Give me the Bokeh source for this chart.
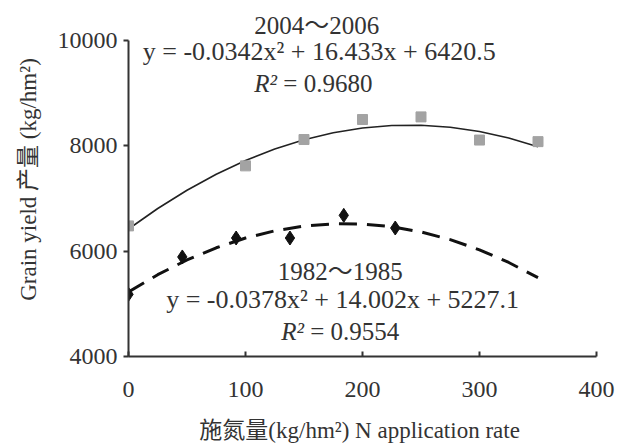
from bokeh.plotting import figure
from bokeh.models import Range1d, FixedTicker, Label
from bokeh.embed import file_html
from bokeh.resources import INLINE

# ---- data ----
n_recent = [0, 100, 150, 200, 250, 300, 350]
yield_recent = [6480, 7620, 8120, 8500, 8550, 8110, 8080]

n_early = [0, 46, 92, 138, 184, 228]
yield_early = [5180, 5890, 6250, 6250, 6680, 6440]

# fitted curves (values of the trend lines shown in the chart)
fit_x = [0, 25, 50, 75, 100, 125, 150, 175, 200, 225, 250, 275, 300, 325, 350]
fit_recent = [6420.5, 6810.0, 7156.7, 7460.6, 7721.8, 7940.3, 8116.0, 8248.9,
              8339.1, 8386.6, 8391.3, 8353.2, 8272.4, 8148.9, 7982.6]
fit_early = [5227.1, 5553.5, 5832.7, 6064.6, 6249.3, 6386.7, 6476.9, 6519.8,
             6515.5, 6463.9, 6365.1, 6219.0, 6025.7, 5785.1, 5497.3]

x_ticks = [0, 100, 200, 300, 400]
y_ticks = [4000, 6000, 8000, 10000]

label_recent = "2004～2006"
eq_recent = "y = -0.0342x² + 16.433x + 6420.5"
r2_recent = "0.9680"
label_early = "1982～1985"
eq_early = "y = -0.0378x² + 14.002x + 5227.1"
r2_early = "0.9554"

x_title = "施氮量(kg/hm²)  N application rate"
y_title = "Grain yield 产量 (kg/hm²)"

FONT = "Liberation Serif, Noto Sans CJK SC"
FS = "24px"
FS_TXT = "25px"
FS_EQ = "26px"

p = figure(width=615, height=445, output_backend="svg", toolbar_location=None,
           x_range=Range1d(0, 400), y_range=Range1d(4000, 10722),
           min_border_left=128, min_border_right=19, min_border_top=2,
           min_border_bottom=89)
p.outline_line_color = None
p.grid.grid_line_color = None
p.background_fill_color = "white"
p.border_fill_color = "white"

for ax in (p.xaxis[0], p.yaxis[0]):
    ax.axis_line_width = 2
    ax.axis_line_color = "#333333"
    ax.major_tick_line_color = "#333333"
    ax.major_tick_line_width = 2
    ax.minor_tick_line_color = None
    ax.major_label_text_font = FONT
    ax.major_label_text_font_size = FS
    ax.major_label_text_color = "#333333"
    ax.axis_label_text_font = FONT
    ax.axis_label_text_font_size = "23px"
    ax.axis_label_text_font_style = "normal"
    ax.axis_label_text_color = "#333333"

p.xaxis.ticker = FixedTicker(ticks=x_ticks)
p.yaxis.ticker = FixedTicker(ticks=y_ticks)
p.yaxis.bounds = (4000, 10000)
p.xaxis.major_tick_in = 5
p.xaxis.major_tick_out = 0
p.yaxis.major_tick_in = 0
p.yaxis.major_tick_out = 5
p.xaxis.major_label_standoff = 25
p.yaxis.major_label_standoff = 6
p.xaxis.axis_label = x_title
p.yaxis.axis_label = y_title
p.xaxis.axis_label_standoff = 18
p.yaxis.axis_label_standoff = 14

# trend lines
p.line(fit_x, fit_recent, line_color="#222222", line_width=1.6)
p.line(fit_x, fit_early, line_color="#111111", line_width=3, line_dash="18 10")

# observed points
p.scatter(n_recent, yield_recent, marker="square", size=10,
          fill_color="#a3a3a3", line_color="#a3a3a3")
p.scatter(n_early, yield_early, marker="diamond", size=14,
          fill_color="#111111", line_color="#111111")

def lab(x, y, text, italic=False, align="center", size=FS_TXT):
    p.add_layout(Label(x=x, y=y, text=text, text_font=FONT, text_font_size=size,
                       text_color="#333333", text_align=align,
                       text_baseline="middle",
                       text_font_style="italic" if italic else "normal"))

lab(161, 10290, label_recent)
lab(163, 9790, eq_recent, size=FS_EQ)
lab(127, 9180, "R²", italic=True, align="right")
lab(127, 9180, "\u00a0= " + r2_recent, align="left")

lab(181, 5620, label_early)
lab(183, 5080, eq_early, size=FS_EQ)
lab(150, 4470, "R²", italic=True, align="right")
lab(150, 4470, "\u00a0= " + r2_early, align="left")

open("out.html", "w").write(file_html(p, INLINE))
